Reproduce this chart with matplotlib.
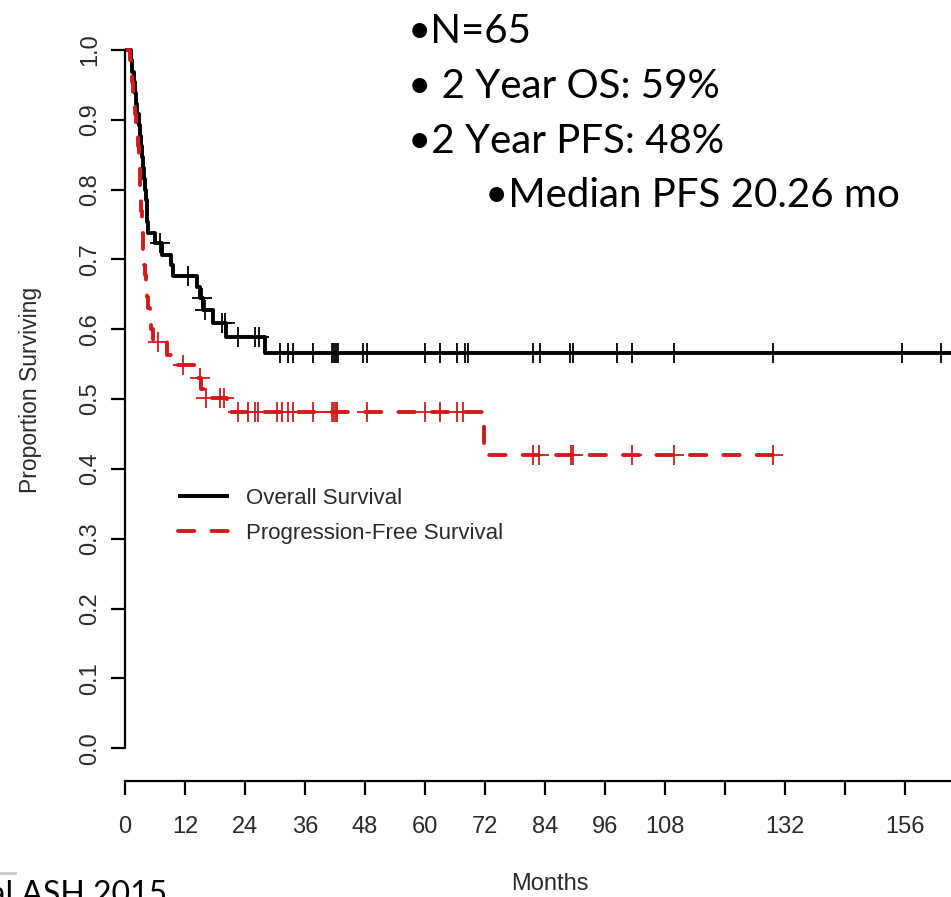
import numpy as np
import matplotlib
matplotlib.use("Agg")
from matplotlib import pyplot as plt
from matplotlib.lines import Line2D

plt.rcParams['font.family'] = ['Liberation Sans', 'DejaVu Sans']

# Kaplan-Meier step points (months, proportion surviving)
os_times = [0, 1.2, 1.45, 1.7, 1.95, 2.2, 2.45, 2.7, 2.9, 3.1, 3.35, 3.6, 3.85, 4.0,
            4.15, 4.3, 4.45, 4.6, 6.0, 7.4, 9.2, 9.5, 14.4, 15.0, 15.6, 17.6, 20.2, 28.0]
os_surv = [1.0, 0.985, 0.969, 0.954, 0.938, 0.923, 0.908, 0.892, 0.877, 0.862, 0.846,
           0.831, 0.815, 0.800, 0.785, 0.769, 0.754, 0.738, 0.723, 0.707, 0.692, 0.676,
           0.660, 0.645, 0.627, 0.609, 0.589, 0.566]
os_censor = [7.0, 12.6, 15.4, 16.0, 19.4, 20.0, 22.6, 26.0, 26.8, 31.0, 32.6, 33.6,
             37.6, 41.4, 41.8, 42.2, 42.6, 47.6, 48.4, 60.0, 63.0, 66.4, 68.0, 68.6,
             81.6, 83.0, 89.0, 89.6, 98.4, 101.4, 109.8, 129.6, 155.4, 163.2]
os_end = 170

pfs_times = [0, 1.0, 1.2, 1.4, 1.6, 1.8, 2.0, 2.2, 2.4, 2.6, 2.7, 2.8, 2.9, 3.0, 3.1,
             3.2, 3.3, 3.4, 3.5, 3.6, 3.8, 4.0, 4.2, 4.4, 4.6, 4.9, 5.2, 5.6, 8.4, 9.8,
             14.6, 15.2, 15.8, 20.4, 71.8]
pfs_surv = [1.0, 0.985, 0.969, 0.954, 0.938, 0.923, 0.908, 0.892, 0.877, 0.862, 0.846,
            0.831, 0.815, 0.800, 0.785, 0.769, 0.754, 0.738, 0.723, 0.708, 0.692, 0.677,
            0.662, 0.646, 0.631, 0.615, 0.600, 0.582, 0.563, 0.549, 0.530, 0.515, 0.501,
            0.481, 0.420]
pfs_censor = [6.6, 11.6, 15.0, 16.2, 19.0, 19.8, 22.6, 24.6, 26.0, 26.6, 30.4, 31.4,
              32.6, 33.6, 37.6, 41.4, 41.8, 42.2, 42.4, 48.4, 60.0, 63.0, 66.4, 67.6,
              81.6, 82.8, 89.2, 89.6, 101.4, 109.8, 129.6]
pfs_end = 129.6

x_ticks = list(range(0, 169, 12))
x_labels = ['0', '12', '24', '36', '48', '60', '72', '84', '96', '108', '', '132', '', '156', '']
y_ticks = [0.0, 0.1, 0.2, 0.3, 0.4, 0.5, 0.6, 0.7, 0.8, 0.9, 1.0]

notes = ['\u2022N=65', '\u2022 2 Year OS: 59%', '\u20222 Year PFS: 48%', '\u2022Median PFS 20.26 mo']

RED = '#d41a1a'
W, H = 951, 897


def surv_at(times, surv, t):
    idx = np.searchsorted(times, t, side='right') - 1
    return np.asarray(surv)[idx]


def km_line(ax, times, surv, censor, end, color, **kw):
    t = np.append(times, end)
    s = np.append(surv, surv[-1])
    line, = ax.step(t, s, where='post', color=color, lw=2.8, **kw)
    ax.plot(censor, surv_at(times, surv, censor), linestyle='none', marker='+',
            ms=14, mew=1.3, color=color)
    return line


fig = plt.figure(figsize=(W / 100, H / 100), dpi=100)
# axes placed in pixel terms: x=0 at px 125, x-axis line at px 781 from the top
ax = fig.add_axes([125 / W, (H - 781) / H, 1 - 125 / W, (781 - 22) / H])

os_line = km_line(ax, os_times, os_surv, os_censor, os_end, 'black', solid_capstyle='butt')
pfs_line = km_line(ax, pfs_times, pfs_surv, pfs_censor, pfs_end, RED,
                   dashes=(4.2, 4.4), dash_capstyle='round')

for side in ['top', 'right']:
    ax.spines[side].set_visible(False)
ax.spines['left'].set_bounds(0, 1)
ax.spines['bottom'].set_bounds(0, 168)
for side in ['left', 'bottom']:
    ax.spines[side].set_linewidth(1.6)

ax.set_xticks(x_ticks)
ax.set_xticklabels(x_labels)
ax.set_yticks(y_ticks)
ax.set_yticklabels(['%.1f' % v for v in y_ticks], rotation=90, va='center')
ax.tick_params(axis='both', direction='out', length=10, width=1.6,
               labelsize=17, labelcolor='#2a2a2a')
ax.tick_params(axis='x', pad=15)
ax.tick_params(axis='y', pad=7)
# limits after the ticks so the 168 tick runs off the right edge
ax.set_xlim(0, (W - 125) / 5.0)
ax.set_ylim(-0.047, 1.04)

fig.text(550 / W, 1 - 884 / H, 'Months', ha='center', va='center',
         fontsize=17, color='#2a2a2a')
fig.text(31 / W, 1 - 390 / H, 'Proportion Surviving', ha='center', va='center',
         rotation=90, fontsize=16.5, color='#2a2a2a')

ax.legend([os_line, pfs_line], ['Overall Survival', 'Progression-Free Survival'],
          loc='upper left', bbox_to_anchor=(178 / W, 1 - 488 / H),
          bbox_transform=fig.transFigure, frameon=False, fontsize=16,
          handlelength=2.3, handletextpad=0.75, labelspacing=0.62,
          borderpad=0, borderaxespad=0, labelcolor='#2a2a2a')

# summary bullets in the top right
note_font = ['Lato', 'DejaVu Sans']
note_pos = [(408, 43), (408, 98), (408, 153), (485, 207)]
for txt, (px, py) in zip(notes, note_pos):
    fig.text(px / W, 1 - py / H, txt, ha='left', va='baseline',
             fontsize=29, family=note_font, color='black')

# source line, cut off at the bottom left
fig.text(167 / W, 1 - 904 / H, 'et al ASH 2015', ha='right', va='baseline',
         fontsize=23, family=note_font, color='black')
fig.add_artist(Line2D([0, 15 / W], [1 - 873 / H, 1 - 873 / H], color='#c8c8c8',
                      lw=2, transform=fig.transFigure))

fig.savefig('out.png', dpi=100)
